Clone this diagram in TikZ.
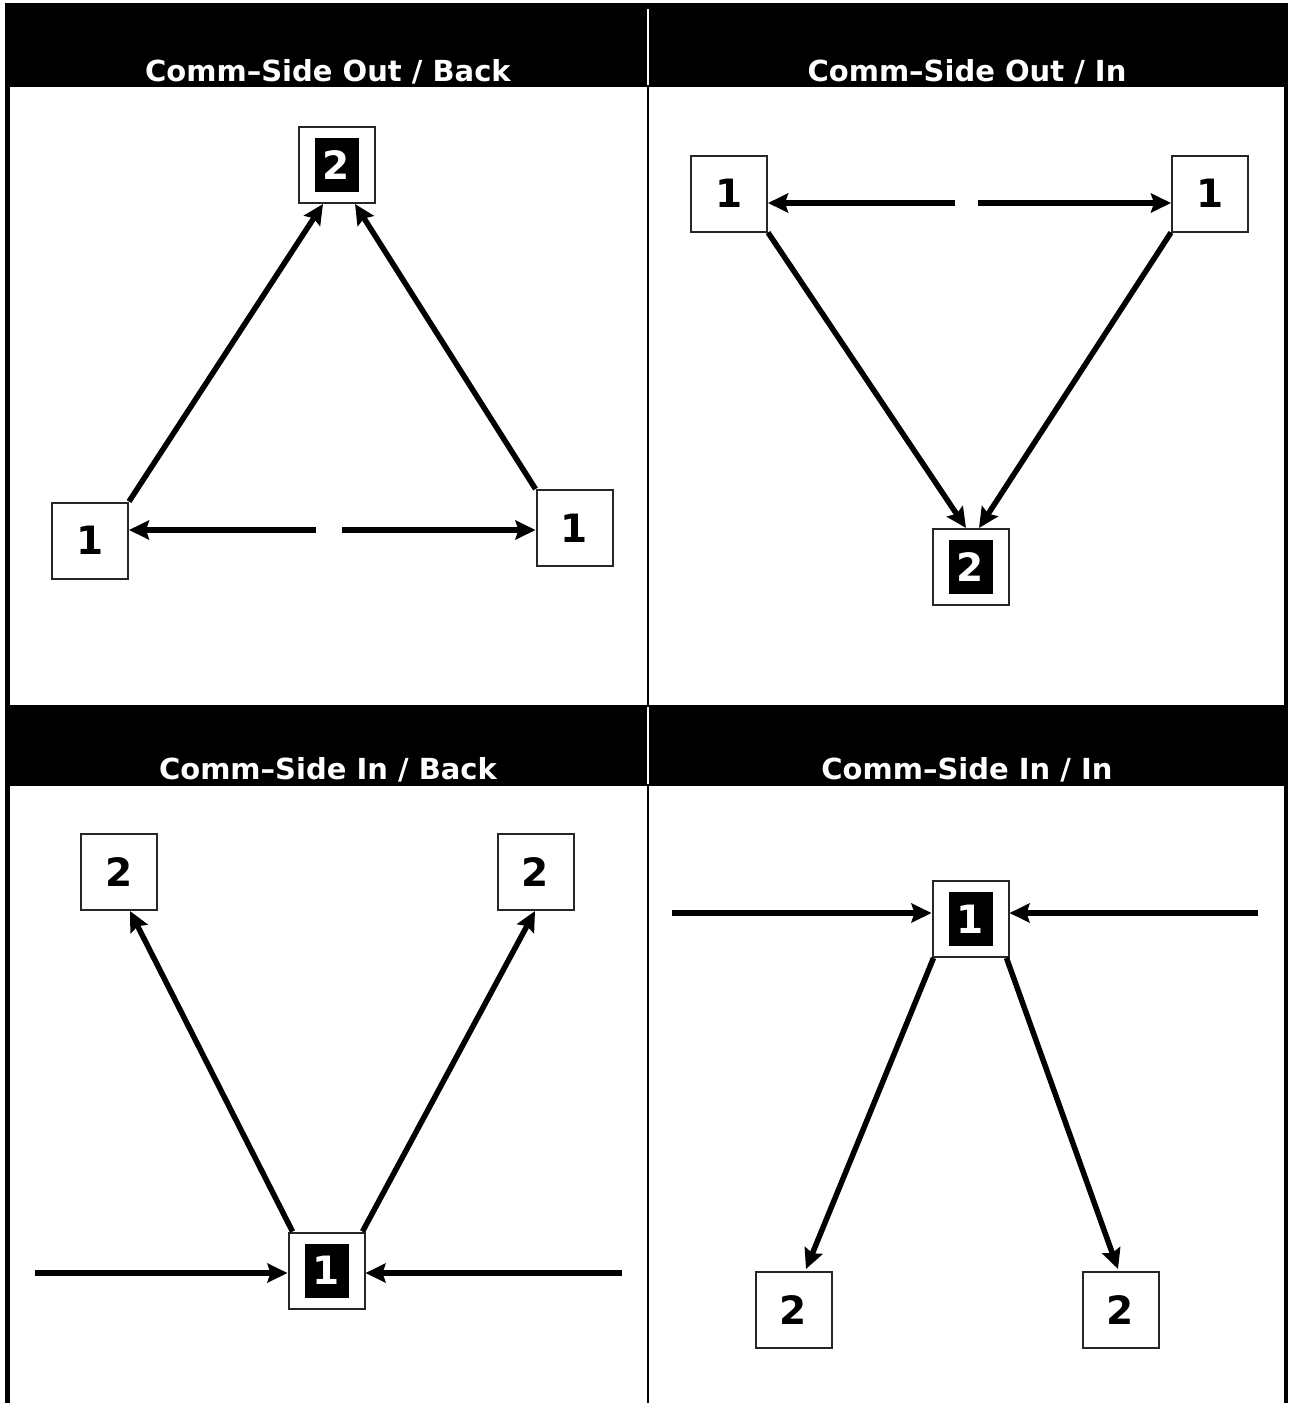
\documentclass[tikz,border=0pt]{standalone}
\usepackage{fontspec}
\setmainfont{DejaVu Sans}
\usetikzlibrary{arrows.meta,calc}
\begin{document}
\begin{tikzpicture}[x=1pt,y=-1pt,
  numbox/.style={draw=black!85,line width=2pt,fill=white,minimum width=76pt,minimum height=76pt,inner sep=0pt,font=\fontsize{39}{39}\selectfont\bfseries},
  invbox/.style={numbox,text=white,path picture={\fill[black] ([shift={(-22pt,-27pt)}]path picture bounding box.center) rectangle ++(44pt,54pt);}},
  arr/.style={line width=5.5pt,-{Stealth[length=20pt,width=19pt,inset=3pt]}},
  headtext/.style={text=white,anchor=base,inner sep=0pt,font=\fontsize{29}{29}\selectfont\bfseries},
  band/.style={fill=black},
  frame/.style={line width=5pt},
  divider/.style={line width=2.5pt}]
\useasboundingbox (0,0) rectangle (1288,1403);
% frame and bands
\draw[frame] (7.5,3) -- (7.5,1403);
\draw[line width=4pt] (1286,3) -- (1286,1403);
\draw[divider] (648,87) -- (648,1403);
\fill[band] (5,3) rectangle (1288,87);
\fill[band] (5,705) rectangle (1288,786);
\draw[white,line width=2pt] (648,9) -- (648,85);
\draw[white,line width=2pt] (648,707) -- (648,784);
\node[headtext] (h1) at (328,81) {Comm–Side Out / Back};
\node[headtext] (h2) at (967,81) {Comm–Side Out / In};
\node[headtext] (h3) at (328,779) {Comm–Side In / Back};
\node[headtext] (h4) at (967,779) {Comm–Side In / In};
% top-left panel
\node[invbox] (tlTop) at (336.5,165) {2};
\node[numbox] (tlL) at (90,540.5) {1};
\node[numbox] (tlR) at (574.5,528) {1};
\coordinate (tlgL) at (316,530);
\coordinate (tlgR) at (342,530);
\draw[arr] (tlL.north east) -- ([xshift=-13.5pt]tlTop.south);
\draw[arr] (tlR.north west) -- ([xshift=18.5pt]tlTop.south);
\draw[arr] (tlgL) -- (tlL.east |- tlgL);
\draw[arr] (tlgR) -- (tlR.west |- tlgR);
% top-right panel
\node[numbox] (trL) at (729,193.5) {1};
\node[numbox] (trR) at (1210,193.5) {1};
\node[invbox] (trBot) at (970.5,567) {2};
\coordinate (trgL) at (955,203);
\coordinate (trgR) at (978,203);
\draw[arr] (trgL) -- (trL.east |- trgL);
\draw[arr] (trgR) -- (trR.west |- trgR);
\draw[arr] (trL.south east) -- ([xshift=-4.5pt]trBot.north);
\draw[arr] (trR.south west) -- ([xshift=8.5pt]trBot.north);
% bottom-left panel
\node[numbox] (blL) at (119,872) {2};
\node[numbox] (blR) at (535.5,872) {2};
\node[invbox] (blC) at (326.5,1270.5) {1};
\coordinate (blinL) at (35,1273);
\coordinate (blinR) at (622,1273);
\draw[arr] (blinL) -- (blC.west |- blinL);
\draw[arr] (blinR) -- (blC.east |- blinR);
\draw[arr] ([xshift=5pt]blC.north west) -- ([xshift=11pt]blL.south);
\draw[arr] ([xshift=-3pt]blC.north east) -- ([xshift=-0.5pt]blR.south);
% bottom-right panel
\node[invbox] (brC) at (970.5,919) {1};
\node[numbox] (brL) at (793.5,1310) {2};
\node[numbox] (brR) at (1120.5,1310) {2};
\coordinate (brinL) at (672,913);
\coordinate (brinR) at (1258,913);
\draw[arr] (brinL) -- (brC.west |- brinL);
\draw[arr] (brinR) -- (brC.east |- brinR);
\draw[arr] ([xshift=2pt]brC.south west) -- ([xshift=12.5pt,yshift=2pt]brL.north);
\draw[arr] ([xshift=-3pt]brC.south east) -- ([xshift=-2.5pt,yshift=2pt]brR.north);
\end{tikzpicture}
\end{document}
